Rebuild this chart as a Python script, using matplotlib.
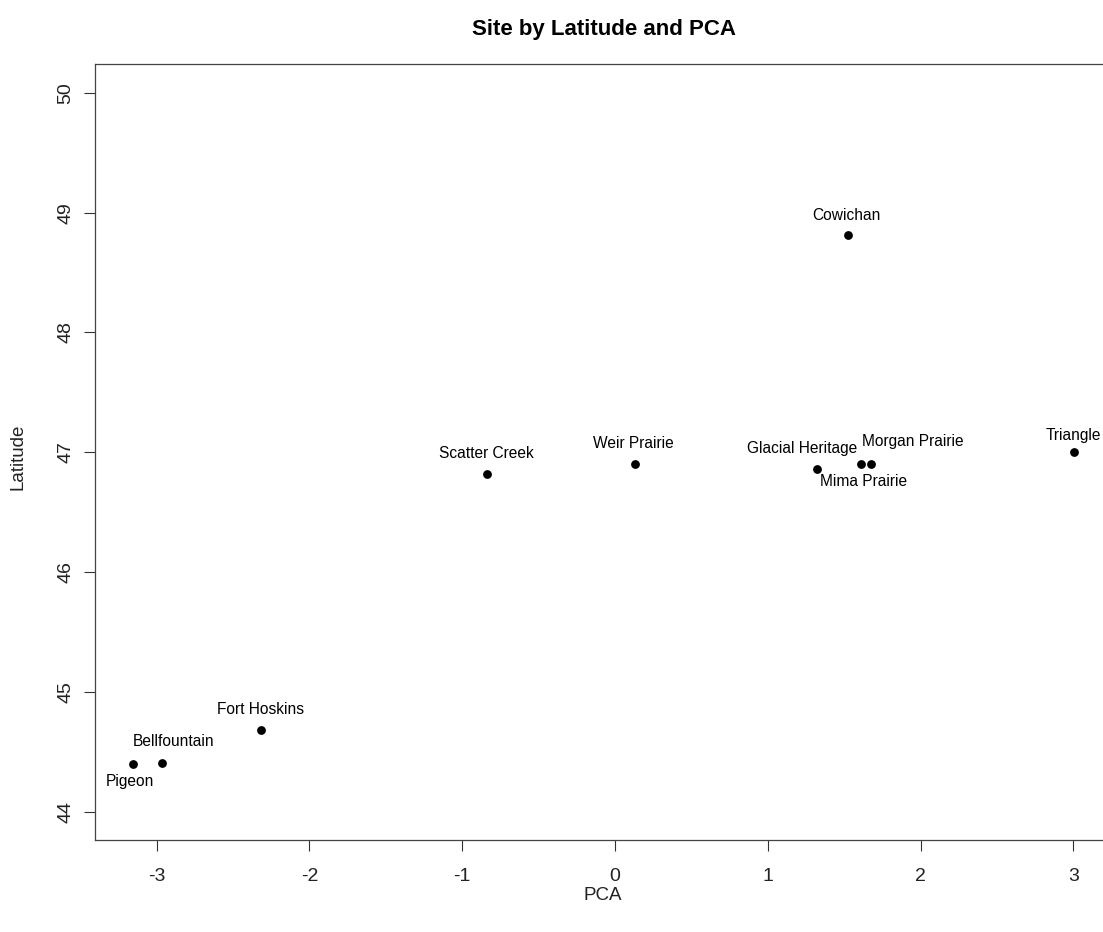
import matplotlib
matplotlib.use("Agg")
import matplotlib.pyplot as plt

sites = ["Pigeon", "Bellfountain", "Fort Hoskins", "Scatter Creek", "Weir Prairie",
         "Glacial Heritage", "Mima Prairie", "Morgan Prairie", "Cowichan", "Triangle"]
pca = [-3.154, -2.964, -2.318, -0.835, 0.132, 1.325, 1.611, 1.675, 1.525, 3.006]
latitude = [44.40, 44.41, 44.68, 46.82, 46.905, 46.863, 46.90, 46.905, 48.81, 47.00]
x_ticks = [-3, -2, -1, 0, 1, 2, 3]
y_ticks = [44, 45, 46, 47, 48, 49, 50]

# label offsets in pixels (style, not data)
label_offsets = [(-3, -17), (11, 21), (0, 21), (-1, 20), (-2, 20),
                 (-15.5, 20), (2, -17.5), (42, 22), (-1.5, 20), (-1, 17)]

plt.rcParams['font.family'] = ['Liberation Sans', 'DejaVu Sans']

W, H = 1103, 932
fig = plt.figure(figsize=(W / 100, H / 100), dpi=100)
L, R, T, B = 95, 1110.6, 64, 840
ax = fig.add_axes([L / W, (H - B) / H, (R - L) / W, (B - T) / H])

ax.scatter(pca, latitude, s=40, color='black', zorder=3, linewidths=0)
for name, x, y, (dx, dy) in zip(sites, pca, latitude, label_offsets):
    ax.annotate(name, (x, y), xytext=(dx, dy), textcoords='offset pixels',
                ha='center', va='center', fontsize=11.2, color='black',
                annotation_clip=False)

ax.set_xlim(-3.403, 3.244)
ax.set_ylim(43.766, 50.24)
ax.set_xticks(x_ticks)
ax.set_xticklabels([str(v) for v in x_ticks])
ax.set_yticks(y_ticks)
ax.set_yticklabels([str(v) for v in y_ticks])
ax.tick_params(axis='both', length=8, width=0.8, color='#333333',
               labelsize=14, labelcolor='#222222')
ax.tick_params(axis='x', pad=12)
ax.tick_params(axis='y', pad=7)
for lab in ax.get_yticklabels():
    lab.set_rotation(90)
    lab.set_va('center')
for sp in ax.spines.values():
    sp.set_color('#444444')
    sp.set_linewidth(0.9)

fig.text(603.5 / W, 1 - 30 / H, "Site by Latitude and PCA", ha='center', va='center',
         fontsize=16, fontweight='bold')
fig.text(603 / W, 1 - 895 / H, "PCA", ha='center', va='center', fontsize=13.5,
         color='#222222')
fig.text(18 / W, 1 - 457 / H, "Latitude", ha='center', va='center', fontsize=13.5,
         rotation=90, color='#222222')

fig.savefig("out.png", dpi=100)
